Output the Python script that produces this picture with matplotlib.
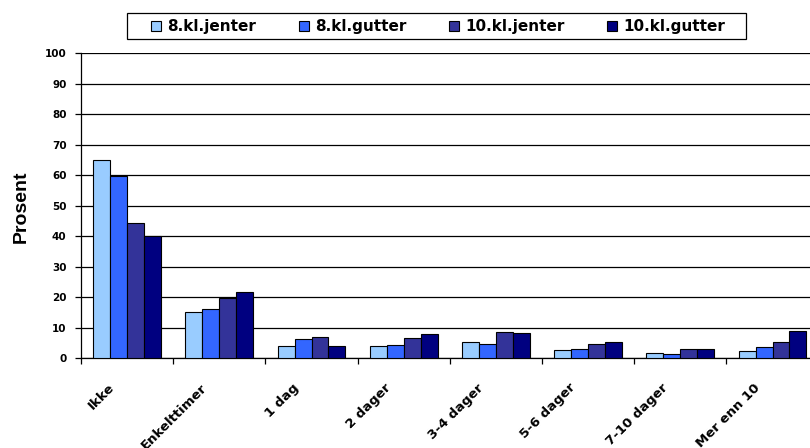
import matplotlib
matplotlib.use("Agg")
import matplotlib.pyplot as plt
import numpy as np
from matplotlib.ticker import MultipleLocator
from matplotlib.transforms import ScaledTranslation
from matplotlib.patches import Rectangle

categories = ["Ikke", "Enkelttimer", "1 dag", "2 dager", "3-4 dager", "5-6 dager", "7-10 dager", "Mer enn 10"]
series_names = ["8.kl.jenter", "8.kl.gutter", "10.kl.jenter", "10.kl.gutter"]
jenter8 = [65.0, 15.2, 4.1, 4.1, 5.3, 2.6, 1.6, 2.3]
gutter8 = [59.7, 16.0, 6.3, 4.5, 4.7, 3.0, 1.3, 3.7]
jenter10 = [44.2, 19.8, 6.9, 6.6, 8.6, 4.7, 3.0, 5.3]
gutter10 = [40.1, 21.7, 4.1, 8.0, 8.4, 5.3, 3.0, 8.9]
colors = ["#99CCFF", "#3366FF", "#333399", "#000080"]

W, H = 810, 448
plt.rcParams['font.family'] = ['DejaVu Sans']
fig = plt.figure(figsize=(W / 100, H / 100), dpi=100)
ax = fig.add_axes([81 / W, 1 - 358.3 / H, 737.6 / W, 305.3 / H])

x = np.arange(len(categories))
bw = 0.184
data = [jenter8, gutter8, jenter10, gutter10]
for i, (vals, name, c) in enumerate(zip(data, series_names, colors)):
    ax.bar(x + (i - 1.5) * bw, vals, width=bw, color=c, edgecolor="black",
           linewidth=0.8, label=name, zorder=3)

ax.set_xlim(-0.5, len(categories) - 0.5)
ax.set_ylim(0, 100)
ax.yaxis.set_major_locator(MultipleLocator(10))
ax.grid(axis='y', color='black', linewidth=0.9, zorder=0)
ax.set_axisbelow(True)
for s in ['top', 'right']:
    ax.spines[s].set_visible(False)
ax.spines['left'].set_linewidth(0.9)
ax.spines['bottom'].set_linewidth(0.9)

ax.set_xticks(x)
ax.set_xticks(np.arange(len(categories) + 1) - 0.5, minor=True)
ax.tick_params(axis='x', which='major', length=0, pad=16.5)
ax.tick_params(axis='x', which='minor', length=4, width=0.9, direction='out')
ax.tick_params(axis='y', length=4, width=0.9, direction='out', pad=6.5)
ax.set_xticklabels(categories, rotation=45, ha='right', va='top',
                   fontsize=9.5, fontweight='bold')
offset = ScaledTranslation(-10 / 100, 0, fig.dpi_scale_trans)
for lbl in ax.get_xticklabels():
    lbl.set_transform(lbl.get_transform() + offset)
for lbl in ax.get_yticklabels():
    lbl.set_fontweight('bold')
    lbl.set_fontsize(7.5)

fig.text(21 / W, 1 - 207 / H, "Prosent", rotation=90, ha='center', va='center',
         fontsize=14, fontweight='bold', family=['Liberation Sans', 'DejaVu Sans'])

handles, labels = ax.get_legend_handles_labels()
leg = fig.legend(handles, labels, loc='center', bbox_to_anchor=(438 / W, 1 - 26.5 / H),
                 ncol=4, frameon=False, prop={'weight': 'bold', 'size': 11},
                 handlelength=0.65, handleheight=0.65, handletextpad=0.4,
                 columnspacing=2.8, borderpad=0)
fig.patches.append(Rectangle((127 / W, 1 - 39 / H), (746 - 127) / W, 26 / H,
                             transform=fig.transFigure, fill=False,
                             edgecolor='black', linewidth=0.9))

fig.savefig("out.png", dpi=100)
